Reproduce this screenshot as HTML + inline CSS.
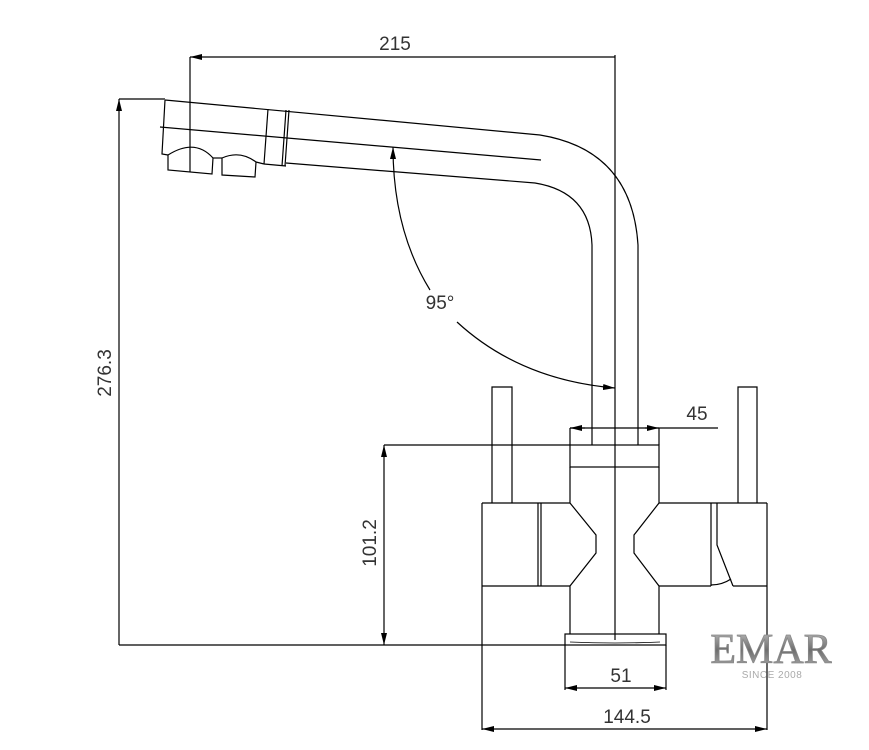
<!DOCTYPE html>
<html><head><meta charset="utf-8"><style>
html,body{margin:0;padding:0;background:#fff;}
svg{display:block;}
text{font-family:"Liberation Sans","DejaVu Sans",sans-serif;fill:#333;}
</style></head><body>
<svg width="869" height="750" viewBox="0 0 869 750" xmlns="http://www.w3.org/2000/svg">
<defs>
<marker id="a" viewBox="0 0 12 6" refX="12" refY="3" markerWidth="12" markerHeight="6" orient="auto-start-reverse" markerUnits="userSpaceOnUse"><path d="M0,0 L12,3 L0,6z" fill="#000"/></marker>
<linearGradient id="g" x1="0" y1="0" x2="0" y2="1"><stop offset="0" stop-color="#c8c8c8"/><stop offset="0.5" stop-color="#6e6e6e"/><stop offset="1" stop-color="#b8b8b8"/></linearGradient>
</defs>
<g fill="none" stroke="#000" stroke-width="1.2">
<path d="M165,100 L540,135 Q632,150 638,245 L638,445"/>
<path d="M160,127 L541,160"/>
<path d="M286,163 L535,183 Q590,192 592,245 L592,445"/>
<path d="M165,100 L162,154 L168,155"/>
<path d="M268,109 L264,164 M286,110 L282,166 M289,110 L285,166"/>
<path d="M264,164 L286,166"/>
<path d="M168,155 L168,170 L212,174 L213,158 Q195,138 168,155"/>
<path d="M213,158 L222,158"/>
<path d="M222,158 L222,175 L255,177 L256,162 Q240,150 222,158"/>
<path d="M256,162 L264,164"/>
<path d="M615,55 L615,640"/>
<path d="M190,57 L190,172"/>
<path d="M190,57 L615,57" marker-start="url(#a)"/>
<path d="M119,99 L165,99"/>
<path d="M119,645 L119,99" marker-end="url(#a)"/>
<path d="M119,645 L565,645"/>
<path d="M384,445 L570,445"/>
<path d="M384,645 L384,445" marker-end="url(#a)" marker-start="url(#a)"/>
<path d="M570,428 L718,428"/>
<path d="M585,428 L570,428" marker-end="url(#a)"/>
<path d="M645,428 L659,428" marker-end="url(#a)"/>
<path d="M570,428 L570,445 M659,428 L659,445"/>
<path d="M430,290 Q393,230 393,147" marker-end="url(#a)"/>
<path d="M457,322 Q520,380 615,388" marker-end="url(#a)"/>
<rect x="570" y="445" width="89" height="22"/>
<path d="M570,467 L570,503 L596,535 L596,553 L570,586 L570,634"/>
<path d="M659,467 L659,503 L634,535 L634,553 L659,586 L659,634"/>
<path d="M492,503 L492,387 L512,387 L512,503"/>
<path d="M482,503 L570,503 M482,586 L570,586"/>
<path d="M482,503 L482,730"/>
<path d="M538,503 L538,586 M541,503 L541,586"/>
<path d="M738,503 L738,387 L757,387 L757,503"/>
<path d="M659,503 L767,503 M659,586 L711,586 M733,586 L767,586"/>
<path d="M767,503 L767,730"/>
<path d="M711,503 L711,586 M717,503 L717,545 L733,586"/>
<path d="M711,585 Q722,585 731,579"/>
<rect x="565" y="634" width="101" height="11"/>
<path d="M570,642 Q615,644 660,642" stroke-width="0.8"/>
<path d="M565,645 L565,690 M666,645 L666,690"/>
<path d="M565,688 L666,688" marker-start="url(#a)" marker-end="url(#a)"/>
<path d="M482,729 L767,729" marker-start="url(#a)" marker-end="url(#a)"/>
</g>
<text x="395" y="50" font-size="19" text-anchor="middle">215</text>
<text x="440" y="309" font-size="19" text-anchor="middle">95°</text>
<text x="697" y="420" font-size="19" text-anchor="middle">45</text>
<text x="621" y="682" font-size="19" text-anchor="middle">51</text>
<text x="627" y="723" font-size="19" text-anchor="middle">144.5</text>
<text transform="translate(111,373) rotate(-90)" font-size="19" text-anchor="middle">276.3</text>
<text transform="translate(376,543) rotate(-90)" font-size="19" text-anchor="middle">101.2</text>
<text x="771" y="663" font-size="42" text-anchor="middle" style="font-family:'Liberation Serif',serif;fill:url(#g);stroke:#888;stroke-width:0.8">EMAR</text>
<text x="772" y="678" font-size="10" text-anchor="middle" style="fill:#aaa;letter-spacing:0.5px">SINCE 2008</text>
</svg>
</body></html>
